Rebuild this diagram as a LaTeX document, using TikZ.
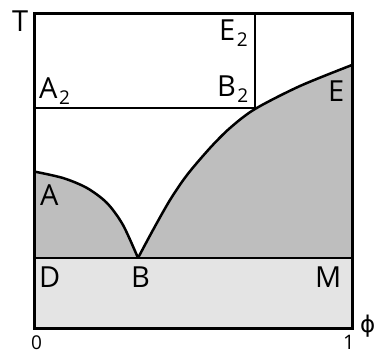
\documentclass[tikz,border=0pt]{standalone}
\usepackage{fontspec}
\setmainfont{Open Sans}
\newfontfamily\symfont{DejaVu Sans}
\definecolor{darkreg}{HTML}{BEBEBE}
\definecolor{lightreg}{HTML}{E4E4E4}
\newcommand{\sbt}[1]{\kern1.5pt\raisebox{-6.5pt}{\fontsize{19}{19}\selectfont #1}}
\begin{document}
\begin{tikzpicture}[x=1pt,y=-1pt,
  lab/.style={anchor=base west, inner sep=0pt, font=\fontsize{29}{29}\selectfont},
  frame/.style={line width=3pt},
  curve/.style={line width=2.5pt},
  thin/.style={line width=1.5pt}]
\useasboundingbox (0,0) rectangle (375,354);
% key points
\coordinate (TL) at (34,13.5);
\coordinate (BR) at (352,328);
\coordinate (Dl) at (34,258);
\coordinate (Mr) at (352,258);
\coordinate (Bpt) at (138,258);
\coordinate (A2l) at (34,108);
\coordinate (B2r) at (255,108);
\coordinate (E2t) at (255,13.5);
% fills
\fill[lightreg] (Dl) rectangle (BR);
\fill[darkreg] (Dl) -- plot[smooth] coordinates {(34,171.5) (63,178) (87,188) (107,203) (123,225) (138,258)}
  -- plot[smooth] coordinates {(138,258) (153,230) (170,200) (187,175) (210,148) (230,128) (255,109) (300,86) (352,65)}
  -- (Mr) -- cycle;
% thin lines
\draw[thin] (Dl) -- (Mr);
\draw[thin] (A2l) -- (B2r);
\draw[thin] (B2r) -- (E2t);
% curves
\draw[curve] plot[smooth] coordinates {(34,171.5) (63,178) (87,188) (107,203) (123,225) (138,258)};
\draw[curve] plot[smooth] coordinates {(138,258) (153,230) (170,200) (187,175) (210,148) (230,128) (255,109) (300,86) (352,65)};
% frame
\draw[frame] (TL) rectangle (BR);
% labels
\node[lab] (lT) at (12,31) {T};
\node[lab] (lA2) at (39,98) {A\sbt{2}};
\node[lab] (lE2) at (219,40) {E\sbt{2}};
\node[lab] (lB2) at (217,96) {B\sbt{2}};
\node[lab] (lE) at (328,101) {E};
\node[lab] (lA) at (40,205) {A};
\node[lab] (lD) at (39,287) {D};
\node[lab] (lB) at (131,287) {B};
\node[lab] (lM) at (315,287) {M};
\node[lab, font=\symfont\fontsize{23}{23}\selectfont] (lphi) at (360,332) {ϕ};
\node[lab, font=\fontsize{19}{19}\selectfont] (l0) at (31,349) {0};
\node[lab, font=\fontsize{20}{20}\selectfont] (l1) at (343,349.5) {1};
\end{tikzpicture}
\end{document}
